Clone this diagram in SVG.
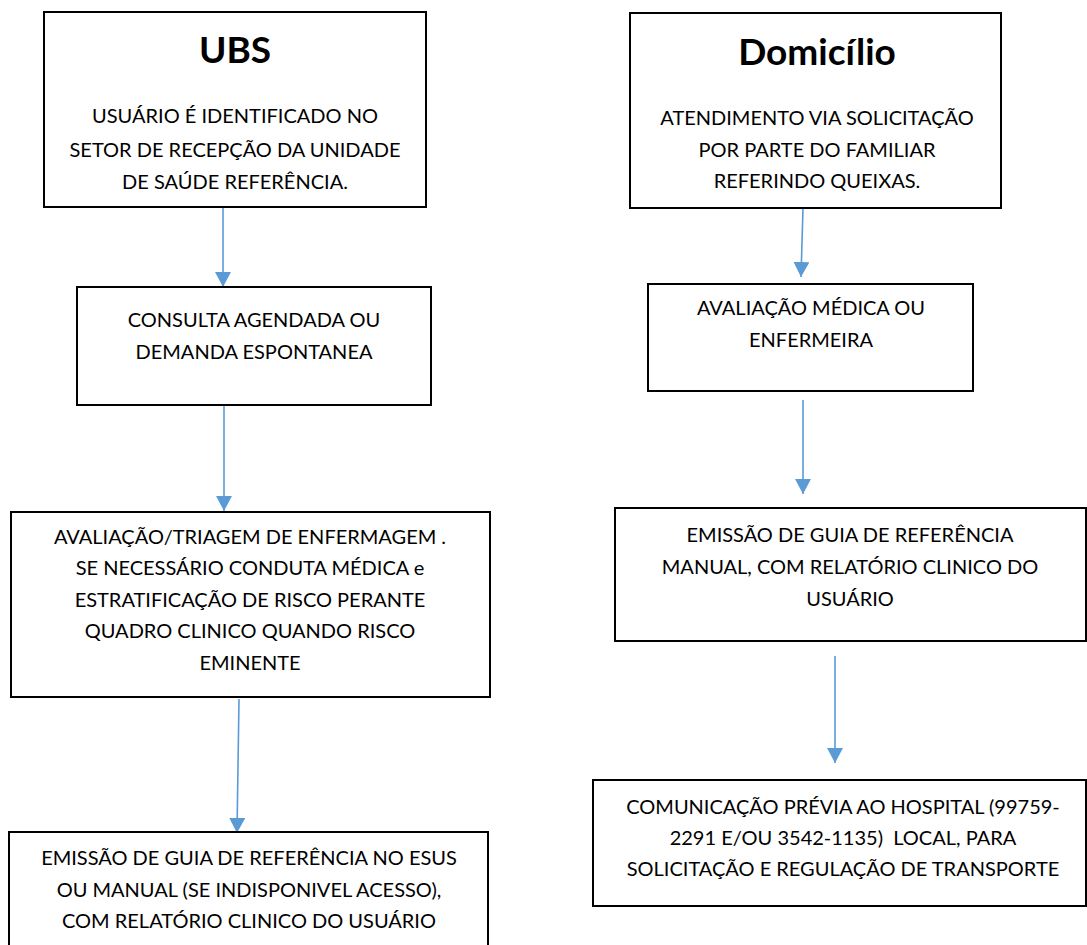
<svg xmlns="http://www.w3.org/2000/svg" width="1087" height="945" viewBox="0 0 1087 945">
<defs>
<style>
.box{fill:#fff;stroke:#000;stroke-width:2}
.t{font-family:Lato,"Open Sans","Liberation Sans",sans-serif;font-size:20px;fill:#000;text-anchor:middle;white-space:pre}
.h{font-family:Lato,"Open Sans","Liberation Sans",sans-serif;font-size:37px;font-weight:bold;fill:#000;text-anchor:middle}
.c{stroke:#5B9BD5;stroke-width:1.6;fill:none}
</style>
<marker id="ah" markerWidth="16" markerHeight="16" viewBox="0 0 16 16" refX="15" refY="8" orient="auto" markerUnits="userSpaceOnUse">
<path d="M0,0 L15,8 L0,16 Z" fill="#5B9BD5"/>
</marker>
</defs>
<rect width="1087" height="945" fill="#fff"/>
<g id="connectors">
<line class="c" x1="223" y1="208" x2="223" y2="287" marker-end="url(#ah)"/>
<line class="c" x1="224" y1="405" x2="224" y2="511" marker-end="url(#ah)"/>
<line class="c" x1="239" y1="699" x2="237" y2="833" marker-end="url(#ah)"/>
<line class="c" x1="803" y1="208" x2="801" y2="277" marker-end="url(#ah)"/>
<line class="c" x1="803" y1="400" x2="803" y2="494" marker-end="url(#ah)"/>
<line class="c" x1="835" y1="656" x2="835" y2="763" marker-end="url(#ah)"/>
</g>
<g id="ubs">
<rect class="box" x="44" y="12" width="382" height="195"/>
<text class="h" x="235" y="63">UBS</text>
<text class="t" x="235" y="123">USUÁRIO É IDENTIFICADO NO</text>
<text class="t" x="235" y="157">SETOR DE RECEPÇÃO DA UNIDADE</text>
<text class="t" x="235" y="189">DE SAÚDE REFERÊNCIA.</text>
</g>
<g id="consulta">
<rect class="box" x="77" y="287" width="354" height="118"/>
<text class="t" x="254" y="327">CONSULTA AGENDADA OU</text>
<text class="t" x="254" y="359">DEMANDA ESPONTANEA</text>
</g>
<g id="triagem">
<rect class="box" x="11" y="512" width="479" height="185"/>
<text class="t" x="250" y="544">AVALIAÇÃO/TRIAGEM DE ENFERMAGEM .</text>
<text class="t" x="250" y="575">SE NECESSÁRIO CONDUTA MÉDICA e</text>
<text class="t" x="250" y="607">ESTRATIFICAÇÃO DE RISCO PERANTE</text>
<text class="t" x="250" y="638">QUADRO CLINICO QUANDO RISCO</text>
<text class="t" x="250" y="670">EMINENTE</text>
</g>
<g id="emissao-esus">
<rect class="box" x="9" y="832" width="479" height="125"/>
<text class="t" x="249" y="865">EMISSÃO DE GUIA DE REFERÊNCIA NO ESUS</text>
<text class="t" x="249" y="897">OU MANUAL (SE INDISPONIVEL ACESSO),</text>
<text class="t" x="249" y="928">COM RELATÓRIO CLINICO DO USUÁRIO</text>
</g>
<g id="domicilio">
<rect class="box" x="630" y="13" width="371" height="195"/>
<text class="h" x="817" y="65">Domicílio</text>
<text class="t" x="817" y="125">ATENDIMENTO VIA SOLICITAÇÃO</text>
<text class="t" x="817" y="157">POR PARTE DO FAMILIAR</text>
<text class="t" x="817" y="188">REFERINDO QUEIXAS.</text>
</g>
<g id="avaliacao-medica">
<rect class="box" x="648" y="284" width="325" height="107"/>
<text class="t" x="811" y="315">AVALIAÇÃO MÉDICA OU</text>
<text class="t" x="811" y="347">ENFERMEIRA</text>
</g>
<g id="emissao-manual">
<rect class="box" x="615" y="508" width="471" height="133"/>
<text class="t" x="850" y="542">EMISSÃO DE GUIA DE REFERÊNCIA</text>
<text class="t" x="850" y="574">MANUAL, COM RELATÓRIO CLINICO DO</text>
<text class="t" x="850" y="606">USUÁRIO</text>
</g>
<g id="comunicacao">
<rect class="box" x="593" y="780" width="493" height="126"/>
<text class="t" x="843" y="814">COMUNICAÇÃO PRÉVIA AO HOSPITAL (99759-</text>
<text class="t" x="843" y="845">2291 E/OU 3542-1135)  LOCAL, PARA</text>
<text class="t" x="843" y="876">SOLICITAÇÃO E REGULAÇÃO DE TRANSPORTE</text>
</g>
</svg>
